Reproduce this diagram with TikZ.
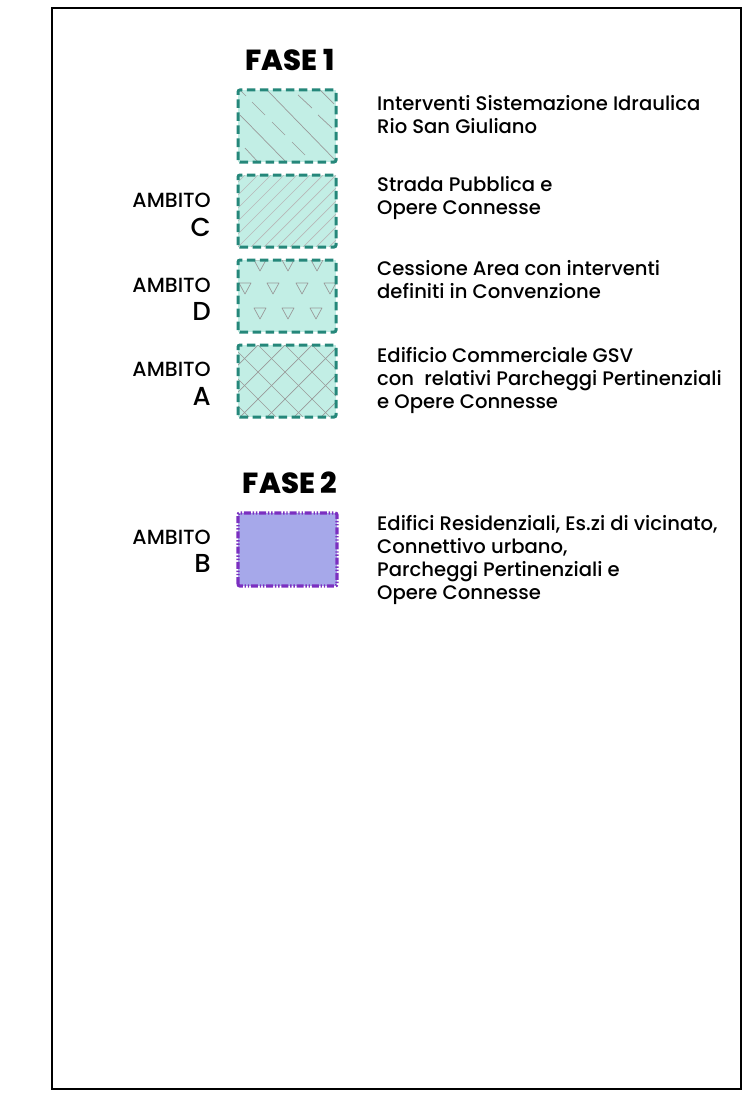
\documentclass[tikz,border=0pt]{standalone}
\usepackage{fontspec}
\setmainfont{Poppins}[UprightFont=* Medium]
\newfontfamily\boldf{Poppins ExtraBold}
\definecolor{tealb}{HTML}{25877A}
\definecolor{tealf}{HTML}{C2EEE5}
\definecolor{purpb}{HTML}{7B2FC0}
\definecolor{purpf}{HTML}{A6A8EA}
\definecolor{hatch}{HTML}{9A9A9A}
\tikzset{
  boxfill/.style={fill=tealf, minimum width=98pt, minimum height=72pt, inner sep=0pt, outer sep=0pt},
  tealborder/.style={draw=tealb, line width=3pt, dash pattern=on 8.5pt off 4.5pt, rounded corners=2pt},
  hatchline/.style={draw=hatch, line width=0.7pt},
  legtext/.style={anchor=base west, align=left, inner sep=0pt, font=\fontsize{19.6}{23}\selectfont},
  ambito/.style={anchor=base east, inner sep=0pt, font=\fontsize{20.5}{22}\selectfont},
  letter/.style={anchor=base east, inner sep=0pt, font=\fontsize{26}{28}\selectfont},
  fase/.style={anchor=base, inner sep=0pt, font=\boldf\fontsize{29}{32}\selectfont}
}
\begin{document}
\begin{tikzpicture}[x=1pt,y=-1pt]
\useasboundingbox (0,0) rectangle (750,1097);
\draw[line width=1.3pt] (52,8) rectangle (741,1089);

% FASE 1
\node[fase] (f1) at (290,71) {FASE 1};

% Box 1
\node[boxfill] (b1) at (287,126) {};
\begin{scope}
\clip (b1.south west) rectangle (b1.north east);
\draw[hatchline] (267,90) -- (337,162);
\draw[hatchline] (240,115) -- (287,163);
\draw[hatchline] (252,102) -- (265,115);
\draw[hatchline] (298,95) -- (312,108);
\draw[hatchline] (272,122) -- (285,135);
\draw[hatchline] (318,115) -- (332,128);
\draw[hatchline] (292,142) -- (305,155);
\draw[hatchline] (245,148) -- (258,162);
\draw[hatchline] (238,88) -- (246,96);
\draw[hatchline] (320,90) -- (334,104);
\end{scope}
\draw[tealborder] (b1.south west) rectangle (b1.north east);
\node[legtext] (t1) at (377,134) {Interventi Sistemazione Idraulica\\Rio San Giuliano};

% Box 2 (ambito C)
\node[boxfill] (b2) at (287,211) {};
\begin{scope}
\clip (b2.south west) rectangle (b2.north east);
\foreach \k in {-78,-65,...,104} {\draw[hatchline,draw=hatch!70] (238+\k,247) -- (310+\k,175);}
\end{scope}
\draw[tealborder] (b2.south west) rectangle (b2.north east);
\node[ambito] (a1) at (211,207) {AMBITO};
\node[letter] (l1) at (211,236) {C};
\node[legtext] (t2) at (377,214) {Strada Pubblica e\\Opere Connesse};

% Box 3 (ambito D)
\node[boxfill] (b3) at (287,296) {};
\begin{scope}
\clip (b3.south west) rectangle (b3.north east);
\foreach \cx/\ty in {260/260,288/260,317/260,245/283,273/283,302/283,330/283,260/308,288/308,316/308}
  {\draw[hatchline,line join=round] (\cx-6,\ty) -- (\cx+6,\ty) -- (\cx,\ty+11) -- cycle;}
\end{scope}
\draw[tealborder] (b3.south west) rectangle (b3.north east);
\node[ambito] (a2) at (211,292) {AMBITO};
\node[letter] (l2) at (211,320) {D};
\node[legtext] (t3) at (377,298) {Cessione Area con interventi\\definiti in Convenzione};

% Box 4 (ambito A)
\node[boxfill] (b4) at (287,381) {};
\begin{scope}
\clip (b4.south west) rectangle (b4.north east);
\foreach \k in {177,204,...,420} {
  \draw[hatchline] (\k,345) -- (\k+72,417);
  \draw[hatchline] (\k,345) -- (\k-72,417);
}
\end{scope}
\draw[tealborder] (b4.south west) rectangle (b4.north east);
\node[ambito] (a3) at (211,376) {AMBITO};
\node[letter] (l3) at (211,405) {A};
\node[legtext] (t4) at (377,408) {Edificio Commerciale GSV\\con\ \ relativi Parcheggi Pertinenziali\\e Opere Connesse};

% FASE 2
\node[fase] (f2) at (290,493) {FASE 2};

% Box B
\node[fill=purpf, minimum width=99pt, minimum height=73pt, inner sep=0pt, outer sep=0pt] (b5) at (287.5,549.5) {};
\draw[draw=purpb, line width=3.2pt, rounded corners=2pt, dash pattern=on 7pt off 1.8pt on 1.4pt off 1.8pt on 1.4pt off 1.8pt] (b5.south west) rectangle (b5.north east);
\node[ambito] (a4) at (211,544) {AMBITO};
\node[letter] (l4) at (211,572) {B};
\node[legtext] (t5) at (377,599) {Edifici Residenziali, Es.zi di vicinato,\\Connettivo urbano,\\Parcheggi Pertinenziali e\\Opere Connesse};
\end{tikzpicture}
\end{document}
